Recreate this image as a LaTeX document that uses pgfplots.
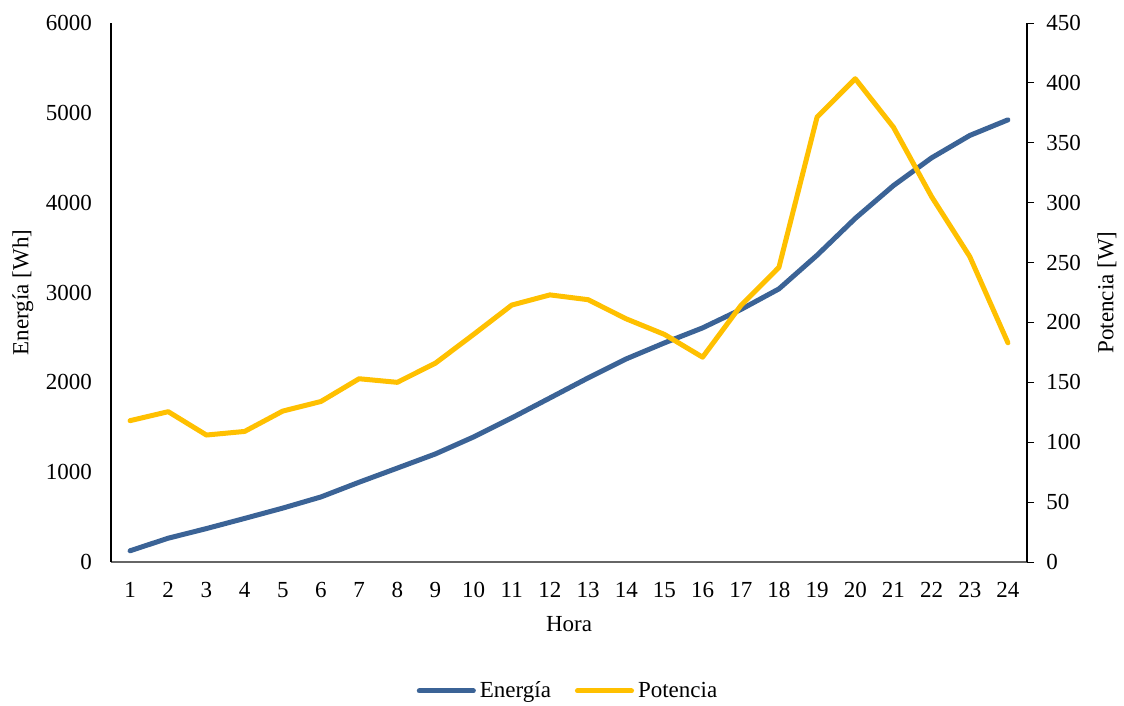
\documentclass[border=0pt]{standalone}
\usepackage{pgfplots}
\pgfplotsset{compat=1.18}
\usepackage{fontspec}
\setmainfont{Liberation Serif}
\definecolor{eblue}{RGB}{59,99,150}
\definecolor{pyellow}{RGB}{255,192,0}
\begin{document}
\begin{tikzpicture}[font=\fontsize{11.5}{13.8}\selectfont]
\pgfplotsset{
  base/.style={
    scale only axis, width=458pt, height=269.5pt,
    xmin=0.5, xmax=24.5, ymin=0,
    xtick={1,...,24},
    tick style={black, line width=0.4pt},
    /pgf/number format/assume math mode=true,
    /pgf/number format/1000 sep={},
    every tick label/.append style={font=\fontsize{11.5}{13.8}\selectfont},
    label style={font=\fontsize{11.5}{13.8}\selectfont},
  }
}
\begin{axis}[base,
  ymax=6000, ytick={0,1000,...,6000},
  axis y line*=left, axis x line*=bottom,
  y axis line style={black, line width=0.6pt},
  x axis line style={gray!80!black, line width=0.8pt},
  xtick style={draw=none}, ytick style={draw=none},
  xlabel={Hora}, ylabel={Energía [Wh]},
  xlabel style={at={(axis description cs:0.5,-0.115)}, anchor=center},
  ylabel style={at={(axis description cs:-0.0961,0.5)}, anchor=center},
  yticklabel style={anchor=east, xshift=-6pt},
  xticklabel style={anchor=center, yshift=-14pt},
]
\addplot[eblue, line width=2.5pt, line join=round, line cap=round] coordinates {
(1,125) (2,265) (3,372) (4,485) (5,600) (6,724) (7,888) (8,1045) (9,1203) (10,1392)
(11,1604) (12,1826) (13,2049) (14,2261) (15,2439) (16,2606) (17,2810) (18,3040)
(19,3415) (20,3825) (21,4190) (22,4499) (23,4748) (24,4922)};
\end{axis}
\begin{axis}[base,
  ymax=450, ytick={0,50,...,450},
  axis y line*=right, axis x line=none,
  y axis line style={black, line width=0.6pt},
  ytick style={black}, tick align=outside, major tick length=3.5pt,
  ylabel={Potencia [W]},
  ylabel style={at={(axis description cs:1.0873,0.5)}, anchor=center},
  yticklabel style={xshift=2.7pt},
  legend style={at={(0.5,-0.2393)}, anchor=center, draw=none, legend columns=2,
    font=\fontsize{11.5}{13.8}\selectfont,
    /tikz/every even column/.append style={column sep=10pt}},
  legend image code/.code={\draw[#1, line cap=round] (0cm,0cm) -- (0.95cm,0cm);},
]
\addlegendimage{eblue, line width=2.5pt}
\addlegendentry{Energía}
\addplot[pyellow, line width=2.5pt, line join=round, line cap=round] coordinates {
(1,118) (2,125.5) (3,106) (4,109) (5,126) (6,134) (7,153) (8,150) (9,166) (10,190)
(11,214.5) (12,223) (13,219) (14,203) (15,190) (16,171) (17,214) (18,246)
(19,371.5) (20,403.5) (21,363) (22,305) (23,255) (24,183)};
\addlegendentry{Potencia}
\end{axis}
\pgfresetboundingbox
\useasboundingbox (-55.5pt,-72pt) rectangle (506.5pt,281pt);
\end{tikzpicture}
\end{document}
